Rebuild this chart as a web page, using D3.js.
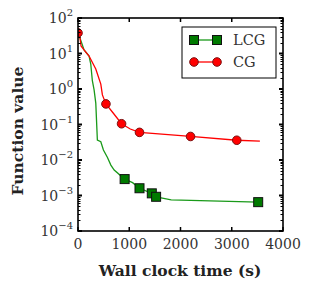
<!DOCTYPE html>
<html>
<head>
<meta charset="utf-8">
<script src="https://cdn.jsdelivr.net/npm/d3@7"></script>
<style>
  html, body { margin: 0; padding: 0; background: #fff; }
  svg text { font-family: "DejaVu Serif", "Liberation Serif", serif; fill: #333; }
</style>
</head>
<body>
<div id="chart"></div>
<script>
// data (time in seconds, function value)
const lcgTime = [0, 118, 216, 249, 280, 314, 347, 378, 445, 496, 575, 641, 706, 910, 1065, 1200, 1359, 1440, 1524, 1818, 3516];
const lcgValue = [40, 12.6, 8.5, 5.06, 1.71, 0.94, 0.40, 0.0366, 0.0327, 0.0191, 0.0118, 0.0072, 0.0052, 0.0029, 0.0023, 0.0016, 0.00128, 0.00115, 0.00092, 0.00075, 0.00065];
const lcgMarkers = [13, 15, 17, 18, 20];

const cgTime = [0, 39, 59, 118, 216, 347, 445, 476, 545, 686, 850, 1020, 1200, 2196, 3098, 3549];
const cgValue = [38, 27.3, 16.3, 12.6, 8.5, 3.66, 1.38, 0.68, 0.38, 0.211, 0.105, 0.0747, 0.060, 0.046, 0.036, 0.0342];
const cgMarkers = [0, 8, 10, 12, 13, 14];

const xTicks = [0, 1000, 2000, 3000, 4000];
const yExponents = [-4, -3, -2, -1, 0, 1, 2];

const width = 314, height = 291;
const mLeft = 78, mRight = 283, mTop = 18, mBottom = 231;

const svg = d3.select('#chart')
    .append('svg')
    .attr('width', width)
    .attr('height', height);

const x = d3.scaleLinear().domain([0, 4000]).range([mLeft, mRight]);
const y = d3.scaleLog().domain([1e-4, 1e2]).range([mBottom, mTop]);

svg.append('clipPath').attr('id', 'plotclip')
    .append('rect')
    .attr('x', mLeft).attr('y', mTop)
    .attr('width', mRight - mLeft).attr('height', mBottom - mTop);

// series
const series = [
    { name: 'LCG', t: lcgTime, v: lcgValue, m: lcgMarkers, line: '#1a9a1a', fill: '#007a00', shape: 'square' },
    { name: 'CG', t: cgTime, v: cgValue, m: cgMarkers, line: '#ff0000', fill: '#ff0000', shape: 'circle' }
];

const plot = svg.append('g').attr('clip-path', 'url(#plotclip)');
const line = d3.line().x(d => x(d[0])).y(d => y(d[1]));

function drawMarker(g, s, cx, cy) {
    if (s.shape === 'square') {
        g.append('rect')
            .attr('x', cx - 4.5).attr('y', cy - 4.5)
            .attr('width', 9).attr('height', 9)
            .attr('fill', s.fill).attr('stroke', '#111').attr('stroke-width', 1);
    } else {
        g.append('circle')
            .attr('cx', cx).attr('cy', cy).attr('r', 4.3)
            .attr('fill', s.fill).attr('stroke', '#7a1010').attr('stroke-width', 1);
    }
}

series.forEach(s => {
    const pts = s.t.map((t, i) => [t, s.v[i]]);
    plot.append('path')
        .datum(pts)
        .attr('fill', 'none')
        .attr('stroke', s.line)
        .attr('stroke-width', 1.3)
        .attr('d', line);
    s.m.forEach(i => drawMarker(plot, s, x(pts[i][0]), y(pts[i][1])));
});

// minor ticks for log axis
const minorTicks = [];
yExponents.slice(0, -1).forEach(e => {
    for (let k = 2; k <= 9; k++) minorTicks.push(k * Math.pow(10, e));
});

const tickGroup = svg.append('g').attr('stroke', '#000');

// left + right major/minor ticks (inward)
[[mLeft, 1], [mRight, -1]].forEach(([px, dir]) => {
    tickGroup.selectAll(null)
        .data(yExponents.map(e => Math.pow(10, e)))
        .enter().append('line')
        .attr('x1', px).attr('x2', px + dir * 4)
        .attr('y1', d => y(d)).attr('y2', d => y(d))
        .attr('stroke-width', 2);
    tickGroup.selectAll(null)
        .data(minorTicks)
        .enter().append('line')
        .attr('x1', px).attr('x2', px + dir * 2.5)
        .attr('y1', d => Math.round(y(d)) + 0.5).attr('y2', d => Math.round(y(d)) + 0.5)
        .attr('stroke-width', 1);
});

// bottom + top ticks
[[mBottom, -1], [mTop, 1]].forEach(([py, dir]) => {
    tickGroup.selectAll(null)
        .data(xTicks)
        .enter().append('line')
        .attr('x1', d => x(d)).attr('x2', d => x(d))
        .attr('y1', py).attr('y2', py + dir * 4)
        .attr('stroke-width', 1.5);
});

// frame
svg.append('rect')
    .attr('x', mLeft).attr('y', mTop)
    .attr('width', mRight - mLeft).attr('height', mBottom - mTop)
    .attr('fill', 'none')
    .attr('stroke', '#000')
    .attr('stroke-width', 1.6);

// x tick labels
svg.selectAll('.xlabel')
    .data(xTicks)
    .enter().append('text')
    .attr('class', 'xlabel')
    .attr('x', d => x(d))
    .attr('y', 249)
    .attr('text-anchor', 'middle')
    .attr('font-size', 14)
    .text(d => d);

// y tick labels with superscripts
const yl = svg.selectAll('.ylabel')
    .data(yExponents)
    .enter().append('text')
    .attr('class', 'ylabel')
    .attr('x', 73)
    .attr('y', e => y(Math.pow(10, e)) + 5)
    .attr('text-anchor', 'end')
    .attr('font-size', 14);
yl.append('tspan').text('10');
yl.append('tspan')
    .attr('font-size', 10)
    .attr('dy', -7)
    .text(e => e < 0 ? '\u2212' + Math.abs(e) : e);

// axis titles
svg.append('text')
    .attr('x', 180)
    .attr('y', 276)
    .attr('text-anchor', 'middle')
    .attr('font-size', 15.5)
    .attr('font-weight', 'bold')
    .style('fill', '#222')
    .text('Wall clock time (s)');

svg.append('text')
    .attr('transform', 'translate(23,131) rotate(-90)')
    .attr('text-anchor', 'middle')
    .attr('font-size', 15.5)
    .attr('font-weight', 'bold')
    .style('fill', '#222')
    .text('Function value');

// legend
const lg = svg.append('g');
lg.append('rect')
    .attr('x', 182).attr('y', 27)
    .attr('width', 94).attr('height', 51)
    .attr('fill', '#fff')
    .attr('stroke', '#000')
    .attr('stroke-width', 1);
series.forEach((s, i) => {
    const ly = 40 + i * 22;
    lg.append('line')
        .attr('x1', 194).attr('x2', 217)
        .attr('y1', ly).attr('y2', ly)
        .attr('stroke', s.line).attr('stroke-width', 1.3);
    drawMarker(lg, s, 194, ly);
    drawMarker(lg, s, 217, ly);
    lg.append('text')
        .attr('x', 233).attr('y', ly + 5)
        .attr('font-size', 14.5)
        .text(s.name);
});
</script>
</body>
</html>
